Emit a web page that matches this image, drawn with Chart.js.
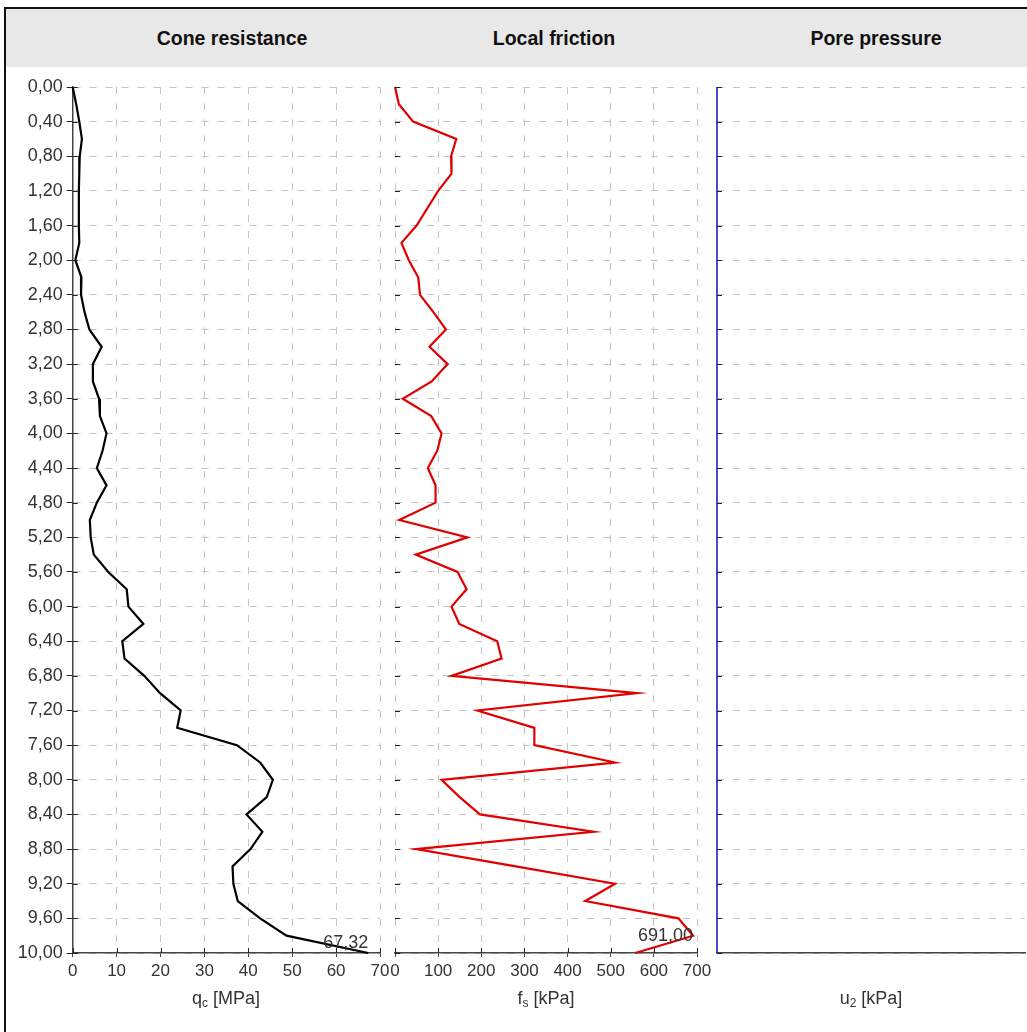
<!DOCTYPE html>
<html>
<head>
<meta charset="utf-8">
<script src="https://cdn.jsdelivr.net/npm/chart.js@4/dist/chart.umd.min.js"></script>
<style>
  html, body { margin: 0; padding: 0; background: #fff; }
  body { width: 1027px; height: 1032px; overflow: hidden; position: relative;
         font-family: "Liberation Sans", Arial, sans-serif; }
  #frame { position: absolute; left: 4px; top: 7px; width: 1100px; height: 1100px;
           border-left: 2px solid #111; border-top: 2px solid #111; }
  #header { position: absolute; left: 6px; top: 9px; width: 1030px; height: 58px; background: #e8e8e8; }
  .title { position: absolute; top: 9px; width: 322px; height: 58px; line-height: 58px;
           text-align: center; font-weight: bold; font-size: 19.5px; color: #111; }
  .axt { position: absolute; top: 988px; width: 200px; text-align: center; font-size: 18px; color: #333; }
  .axt sub { font-size: 12px; vertical-align: -3px; }
  canvas { position: absolute; top: 70px; }
</style>
</head>
<body>
<div id="frame"></div>
<div id="header"></div>
<div class="title" style="left:71px">Cone resistance</div>
<div class="title" style="left:393px">Local friction</div>
<div class="title" style="left:715px">Pore pressure</div>

<canvas id="qcChart" width="400" height="962" style="left:0px"></canvas>
<canvas id="fsChart" width="340" height="962" style="left:380px"></canvas>
<canvas id="u2Chart" width="340" height="962" style="left:700px"></canvas>

<div class="axt" style="left:126px">q<sub>c</sub> [MPa]</div>
<div class="axt" style="left:446px">f<sub>s</sub> [kPa]</div>
<div class="axt" style="left:771px">u<sub>2</sub> [kPa]</div>

<script>
// profondità [m]
const depth = [0.0, 0.2, 0.4, 0.6, 0.8, 1.0, 1.2, 1.4, 1.6, 1.8, 2.0, 2.2, 2.4, 2.6, 2.8, 3.0, 3.2, 3.4, 3.6, 3.8,
  4.0, 4.2, 4.4, 4.6, 4.8, 5.0, 5.2, 5.4, 5.6, 5.8, 6.0, 6.2, 6.4, 6.6, 6.8, 7.0, 7.2, 7.4, 7.6, 7.8,
  8.0, 8.2, 8.4, 8.6, 8.8, 9.0, 9.2, 9.4, 9.6, 9.8, 10.0];

// resistenza alla punta qc [MPa]
const qc = [0, 0.8, 1.5, 2.1, 1.6, 1.5, 1.4, 1.4, 1.4, 1.5, 0.6, 2.0, 1.9, 2.7, 3.8, 6.6, 4.6, 4.6, 6.0, 6.2,
  7.7, 6.8, 5.5, 7.7, 5.5, 3.9, 4.1, 4.8, 8.1, 12.3, 12.7, 16.1, 11.3, 11.8, 16.3, 19.9, 24.6, 23.8, 37.4, 42.7,
  45.6, 44.2, 39.6, 43.2, 40.5, 36.4, 36.6, 37.6, 42.7, 48.7, 67.32];

// attrito laterale fs [kPa]
const fs = [0, 9, 42, 142, 130, 131, 100, 75, 50, 15, 32, 54, 58, 89, 118, 80, 122, 85, 18, 84,
  108, 98, 76, 94, 94, 10, 168, 48, 145, 166, 131, 149, 237, 247, 131, 561, 191, 323, 323, 510,
  108, 150, 197, 460, 49, 280, 510, 441, 657, 691, 557];

// pressione interstiziale u2 [kPa]
const u2 = [0, 0, 0, 0, 0, 0, 0, 0, 0, 0, 0, 0, 0, 0, 0, 0, 0, 0, 0, 0,
  0, 0, 0, 0, 0, 0, 0, 0, 0, 0, 0, 0, 0, 0, 0, 0, 0, 0, 0, 0,
  0, 0, 0, 0, 0, 0, 0, 0, 0, 0, 0];

const FAMILY = "'Liberation Sans', Arial, sans-serif";
const GRID = "#c4c4c4";
const AXIS = "#444";

// --- piccole tacche interne sugli assi ---
const innerTicks = {
  id: "innerTicks",
  afterDatasetsDraw(chart) {
    const { ctx, chartArea, scales } = chart;
    ctx.save();
    ctx.strokeStyle = "#222";
    ctx.lineWidth = 1;
    ctx.beginPath();
    scales.y.ticks.forEach((t, i) => {
      const py = Math.round(scales.y.getPixelForTick(i)) + 0.5;
      ctx.moveTo(chartArea.left, py);
      ctx.lineTo(chartArea.left + 5, py);
    });
    if (scales.x.options.ticks.display) {
      scales.x.ticks.forEach((t, i) => {
        const px = Math.round(scales.x.getPixelForTick(i)) + 0.5;
        ctx.moveTo(px, chartArea.bottom);
        ctx.lineTo(px, chartArea.bottom - 5);
      });
    }
    ctx.stroke();
    ctx.restore();
  }
};

// --- etichetta del valore massimo ---
const peakLabel = {
  id: "peakLabel",
  afterDatasetsDraw(chart, args, opts) {
    if (!opts.display) return;
    const vals = chart.data.datasets[0].data.map(p => p.x);
    const idx = vals.indexOf(Math.max(...vals));
    const el = chart.getDatasetMeta(0).data[idx];
    const { ctx, chartArea } = chart;
    ctx.save();
    ctx.font = "18px " + FAMILY;
    ctx.fillStyle = "#333";
    ctx.textAlign = "right";
    ctx.textBaseline = "middle";
    ctx.fillText(vals[idx].toFixed(2).replace(".", ","), el.x, Math.min(el.y, chartArea.bottom - 10));
    ctx.restore();
  }
};

function makePanel(id, values, color, width, xMin, xMax, step, opt) {
  let c = Chart.getChart(id);
  if (c !== undefined) c.destroy();

  return new Chart(document.getElementById(id), {
    type: "line",
    data: {
      datasets: [{
        data: depth.map((d, i) => ({ x: values[i], y: d })),
        borderColor: color,
        borderWidth: width,
        pointRadius: 0,
        tension: 0,
        clip: 3
      }]
    },
    options: {
      responsive: false,
      animation: false,
      layout: { padding: { top: 17, right: opt.right, left: opt.left, bottom: 0 } },
      plugins: {
        legend: { display: false },
        tooltip: { enabled: false },
        peakLabel: { display: opt.peak }
      },
      scales: {
        x: {
          type: "linear",
          min: xMin,
          max: xMax,
          afterFit: s => { s.height = 79; },
          ticks: { display: opt.xTicks, stepSize: step, color: "#333", font: { family: FAMILY, size: 17 },
                   padding: 4, maxRotation: 0, autoSkip: false },
          grid: { display: opt.xTicks, color: GRID, tickColor: AXIS, tickLength: 4 },
          border: { display: true, color: AXIS, width: 1.5, dash: [7, 9] }
        },
        y: {
          type: "linear",
          reverse: true,
          min: 0,
          max: 10,
          afterFit: s => { s.width = opt.yWidth; },
          ticks: {
            display: opt.yLabels,
            stepSize: 0.4,
            autoSkip: false,
            color: "#333",
            font: { family: FAMILY, size: 18 },
            padding: 4,
            callback: v => v.toFixed(2).replace(".", ",")
          },
          grid: { color: GRID, tickColor: "#222", drawTicks: opt.yLabels, tickLength: 6 },
          border: { display: opt.yBorder, color: AXIS, width: 1.5, dash: [7, 9] }
        }
      }
    },
    plugins: [innerTicks, peakLabel]
  });
}

makePanel("qcChart", qc, "#000000", 2.2, 0, 70, 10,
  { left: 0, right: 20, yWidth: 72.7, yLabels: true, yBorder: true, xTicks: true, peak: true });
makePanel("fsChart", fs, "#e00000", 2.2, 0, 700, 100,
  { left: 15, right: 23, yWidth: 0, yLabels: false, yBorder: false, xTicks: true, peak: true });
makePanel("u2Chart", u2, "#1010c0", 1.5, 0, 100, 10,
  { left: 17, right: 15, yWidth: 0, yLabels: false, yBorder: false, xTicks: false, peak: false });
</script>
</body>
</html>
